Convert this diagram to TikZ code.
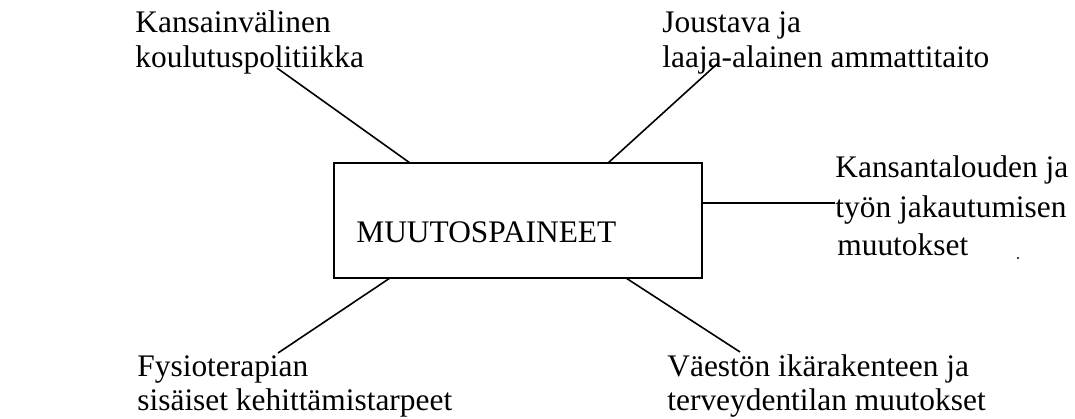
\documentclass[tikz,border=0pt]{standalone}
\usepackage{fontspec}
\setmainfont{Liberation Serif}
\begin{document}
\begin{tikzpicture}[x=0.5pt,y=-0.5pt,
  lbl/.style={anchor=base west,inner sep=0pt,font=\fontsize{15.7}{18}\selectfont},
  conn/.style={line width=0.8pt}]
\useasboundingbox (0,0) rectangle (1075,418);
\node[draw,line width=0.8pt,minimum width=184pt,minimum height=57.5pt,inner sep=0pt] (box) at (518,220.5) {};
\node[lbl] (mid) at (356,242) {MUUTOSPAINEET};
\node[lbl] (tl1) at (135,32) {Kansainvälinen};
\node[lbl] (tl2) at (135,67) {koulutuspolitiikka};
\node[lbl] (tr1) at (662,32) {Joustava ja};
\node[lbl] (tr2) at (662,67) {laaja-alainen ammattitaito};
\node[lbl] (r1) at (835,177) {Kansantalouden ja};
\node[lbl] (r2) at (835,217) {työn jakautumisen};
\node[lbl] (r3) at (837,255) {muutokset};
\node[lbl] (bl1) at (137,376) {Fysioterapian};
\node[lbl] (bl2) at (137,410) {sisäiset kehittämistarpeet};
\node[lbl] (br1) at (667,376) {Väestön ikärakenteen ja};
\node[lbl] (br2) at (667,410) {terveydentilan muutokset};
\coordinate (tlE) at (277,68);
\coordinate (tlS) at (410,163);
\coordinate (trE) at (717,64);
\coordinate (trS) at (608,163);
\coordinate (rS) at (702,203);
\coordinate (rE) at (835,203);
\coordinate (blS) at (390,278);
\coordinate (blE) at (278,353);
\coordinate (brS) at (626,278);
\coordinate (brE) at (740,352);
\draw[conn] (tlS) -- (tlE);
\draw[conn] (trS) -- (trE);
\draw[conn] (rS) -- (rE);
\draw[conn] (blS) -- (blE);
\draw[conn] (brS) -- (brE);
\fill (1018,258) circle (1.2);
\end{tikzpicture}
\end{document}
